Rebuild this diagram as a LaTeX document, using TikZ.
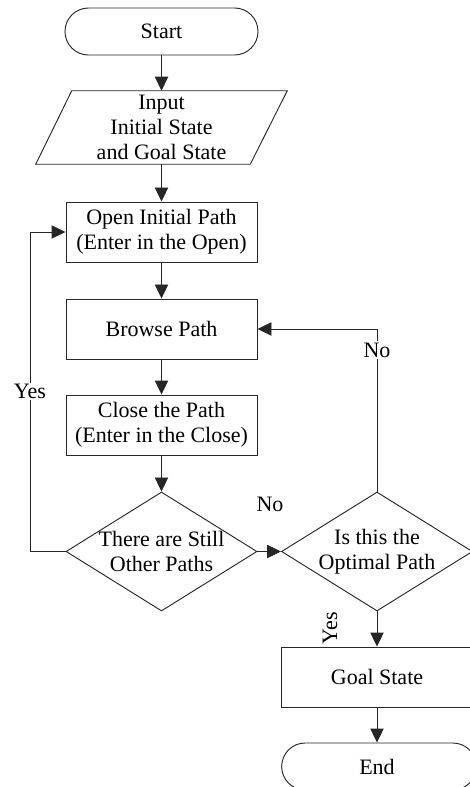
\documentclass[tikz,border=0pt]{standalone}
\usepackage{fontspec}
\setmainfont{Liberation Serif}
\usetikzlibrary{arrows.meta,shapes.geometric}
\tikzset{
  txt/.style={font=\fontsize{16.5pt}{19pt}\selectfont, align=center, text=black},
  boxnode/.style={txt, draw=black!85, line width=0.7pt, rectangle, minimum width=143.25pt, minimum height=45pt, inner sep=0pt},
  termnode/.style={txt, draw=black!85, line width=0.7pt, rectangle, rounded corners=17.6pt, minimum width=144.75pt, minimum height=35.25pt, inner sep=0pt},
  decnode/.style={draw=black!85, line width=0.7pt, diamond, minimum width=143.25pt, minimum height=89.25pt, inner sep=0pt},
  arr/.style={draw=black!85, line width=0.7pt, -{Triangle[length=10.5pt,width=10pt]}},
  ln/.style={draw=black!85, line width=0.7pt},
  lbl/.style={txt, fill=white, inner sep=1pt},
}
\begin{document}
\begin{tikzpicture}[x=0.75pt,y=-0.75pt]
\useasboundingbox (0,0) rectangle (470,787);
\clip (0,0) rectangle (470,787);
\fill[white] (0,0) rectangle (470,787);

% nodes
\node[termnode] (start) at (161.5,31.5) {Start};
\node[txt, rectangle, minimum width=188.25pt, minimum height=54.75pt, inner sep=0pt] (in) at (161.5,127.5) {Input\\Initial State\\and Goal State};
\draw[ln] ([xshift=27pt]in.north west) -- (in.north east) -- ([xshift=-27.75pt]in.south east) -- (in.south west) -- cycle;
\node[boxnode] (open) at (161.5,232) {Open Initial Path\\(Enter in the Open)};
\node[boxnode] (browse) at (161.5,329) {Browse Path};
\node[boxnode] (close) at (161.5,425) {Close the Path\\(Enter in the Close)};
\node[decnode] (d1) at (161.5,551.5) {};
\node[txt] at (d1) {There are Still\\Other Paths};
\node[decnode] (d2) at (377,551.5) {};
\node[txt] at (d2) {Is this the\\Optimal Path};
\node[boxnode, minimum width=146pt] (goal) at (379,677) {};
\node[txt] at (377,677) {Goal State};
\node[termnode, minimum width=146pt] (end) at (379,766.5) {};
\node[txt] at (377,766.5) {End};

\coordinate (c1) at (30,551.5);
\coordinate (c2) at (30,232);
\coordinate (c3) at (377,329);

% connectors
\draw[arr] (start) -- (in);
\draw[arr] (in) -- (open);
\draw[arr] (open) -- (browse);
\draw[arr] (browse) -- (close);
\draw[arr] (close) -- (d1);
\draw[arr] (d1) -- (d2);
\draw[arr] (d2.south) -- (goal.north -| d2.south);
\draw[arr] (goal.south -| d2.south) -- (end.north -| d2.south);
\draw[arr] (d1.west) -- (c1) -- node[lbl]{Yes} (c2) -- (open.west);
\draw[arr] (d2.north) -- node[lbl, pos=0.87]{No} (c3) -- (browse.east);

\node[txt] (nolbl) at (270,504) {No};
\node[txt, rotate=90] (yeslbl) at (330,628) {Yes};
\end{tikzpicture}
\end{document}
